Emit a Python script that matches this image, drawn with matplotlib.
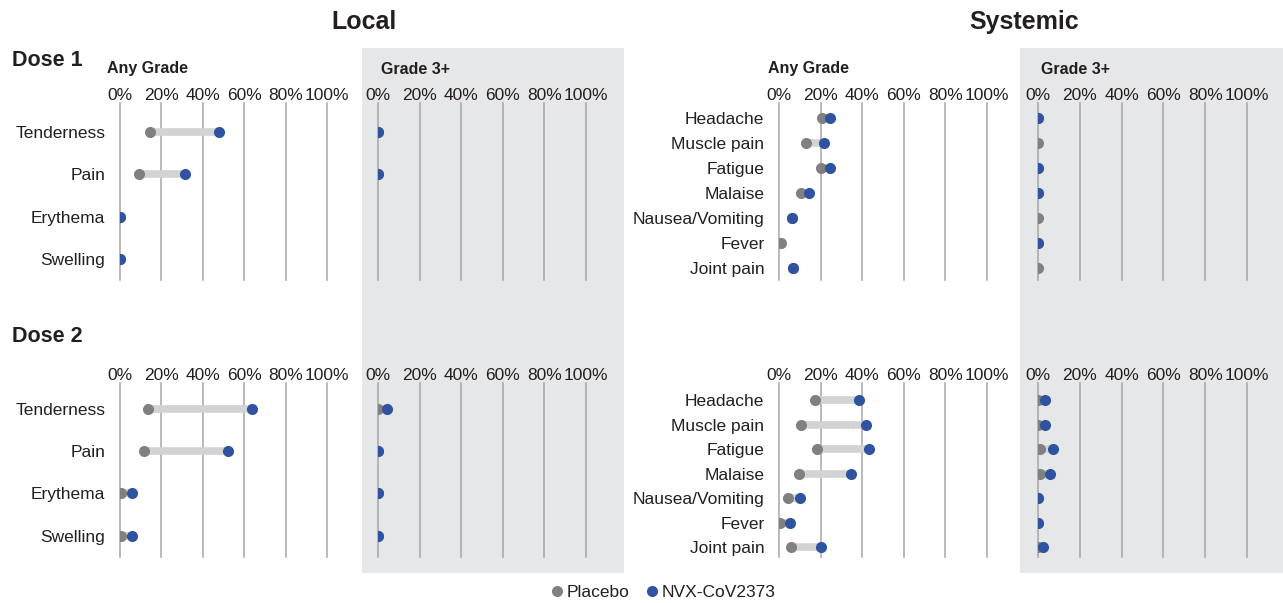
import numpy as np
import matplotlib
matplotlib.use("Agg")
import matplotlib.pyplot as plt
from matplotlib.patches import Rectangle
from matplotlib.lines import Line2D

plt.rcParams['font.family'] = ['Liberation Sans', 'DejaVu Sans']

nan = np.nan

# categories
local_rows = ["Tenderness", "Pain", "Erythema", "Swelling"]
sys_rows = ["Headache", "Muscle pain", "Fatigue", "Malaise",
            "Nausea/Vomiting", "Fever", "Joint pain"]
ticks = [0, 20, 40, 60, 80, 100]
tick_labels = ["0%", "20%", "40%", "60%", "80%", "100%"]

# Dose 1 (%)
local_any_pbo_d1 = [14.5, 9.0, 0, 0]
local_any_nvx_d1 = [48.0, 31.5, 0, 0]
local_g3_pbo_d1 = [0, 0, nan, nan]
local_g3_nvx_d1 = [0, 0, nan, nan]
sys_any_pbo_d1 = [20.5, 12.8, 20.4, 10.6, 6.4, 1.2, 6.7]
sys_any_nvx_d1 = [24.5, 21.6, 24.6, 14.2, 6.4, nan, 6.7]
sys_g3_pbo_d1 = [0, 0, 0, 0, 0, 0, 0]
sys_g3_nvx_d1 = [0, nan, 0, 0, nan, 0, nan]

# Dose 2 (%)
local_any_pbo_d2 = [13.7, 11.4, 0.5, 0.5]
local_any_nvx_d2 = [64.0, 52.4, 5.6, 5.6]
local_g3_pbo_d2 = [0, 0, 0, 0]
local_g3_nvx_d2 = [4.5, 0, 0, 0]
sys_any_pbo_d2 = [17.1, 10.6, 18.3, 9.7, 4.3, 0.7, 5.8]
sys_any_nvx_d2 = [38.7, 42.0, 43.2, 34.8, 10.1, 5.1, 20.0]
sys_g3_pbo_d2 = [0, 0, 0.8, 1.1, 0, 0, 0]
sys_g3_nvx_d2 = [3.5, 3.5, 7.0, 5.6, 0, 0, 2.4]

W, H = 1283, 603
C_PBO = "#808080"
C_NVX = "#2f53a0"
C_BAR = "#d2d3d5"
C_BG = "#e6e7e8"
C_TXT = "#231f20"
C_GRID = "#a5a5a5"

fig = plt.figure(figsize=(W / 100, H / 100), dpi=100)


def fx(x):
    return x / W


def fy(y):
    return 1 - y / H


# gray background behind Grade 3+ columns
for x0, x1 in [(362, 624), (1020, 1283)]:
    fig.patches.append(Rectangle((fx(x0), fy(573)), fx(x1 - x0), (573 - 48) / H,
                                 transform=fig.transFigure, facecolor=C_BG,
                                 edgecolor="none", zorder=-5))


def panel(x0, x1, ytop, ybot, rows, pbo, nvx, ylim, show_rows):
    ax = fig.add_axes([fx(x0), fy(ybot), (x1 - x0) / W, (ybot - ytop) / H])
    ax.set_facecolor("none")
    y = np.arange(len(rows))
    ax.set_xlim(0, 100)
    ax.set_ylim(*ylim)
    for t in ticks:
        ax.axvline(t, color=C_GRID, lw=1.1, zorder=1, clip_on=False)
    for yi, p, v in zip(y, pbo, nvx):
        if not (np.isnan(p) or np.isnan(v)):
            ax.plot([p, v], [yi, yi], color=C_BAR, lw=5.5, solid_capstyle="butt", zorder=2)
    # dots at 0% show only their right half, as in the source
    clip = Rectangle((0, -1), 100, len(rows) + 1, transform=ax.transData)
    p_line, = ax.plot(pbo, y, "o", color=C_PBO, ms=8, mew=0, zorder=3)
    v_line, = ax.plot(nvx, y, "o", color=C_NVX, ms=8, mew=0, zorder=4)
    p_line.set_clip_path(clip)
    v_line.set_clip_path(clip)
    ax.xaxis.tick_top()
    ax.set_xticks(ticks)
    ax.set_xticklabels(tick_labels)
    ax.tick_params(axis="x", length=0, pad=0, labelsize=12.5, colors=C_TXT)
    ax.set_yticks(y)
    if show_rows:
        ax.set_yticklabels(rows)
    else:
        ax.set_yticklabels([])
    ax.tick_params(axis="y", length=0, pad=10.5, labelsize=12.5, colors=C_TXT)
    for s in ax.spines.values():
        s.set_visible(False)
    return ax


# Dose 1
panel(120, 327, 103, 280, local_rows, local_any_pbo_d1, local_any_nvx_d1, (3.5, -0.69), True)
panel(378, 586, 103, 280, local_rows, local_g3_pbo_d1, local_g3_nvx_d1, (3.5, -0.69), False)
panel(779, 987, 103, 280, sys_rows, sys_any_pbo_d1, sys_any_nvx_d1, (6.5, -0.6), True)
panel(1038, 1247, 103, 280, sys_rows, sys_g3_pbo_d1, sys_g3_nvx_d1, (6.5, -0.6), False)

# Dose 2
panel(120, 327, 383, 557, local_rows, local_any_pbo_d2, local_any_nvx_d2, (3.5, -0.61), True)
panel(378, 586, 383, 557, local_rows, local_g3_pbo_d2, local_g3_nvx_d2, (3.5, -0.61), False)
panel(779, 987, 383, 557, sys_rows, sys_any_pbo_d2, sys_any_nvx_d2, (6.4, -0.7), True)
panel(1038, 1247, 383, 557, sys_rows, sys_g3_pbo_d2, sys_g3_nvx_d2, (6.4, -0.7), False)

# titles and labels
fig.text(fx(364), fy(22), "Local", ha="center", va="center", fontsize=18,
         fontweight="bold", color=C_TXT)
fig.text(fx(1024), fy(22), "Systemic", ha="center", va="center", fontsize=18,
         fontweight="bold", color=C_TXT)
fig.text(fx(12), fy(60), "Dose 1", ha="left", va="center", fontsize=15.5,
         fontweight="bold", color=C_TXT)
fig.text(fx(12), fy(336), "Dose 2", ha="left", va="center", fontsize=15.5,
         fontweight="bold", color=C_TXT)
for x, s in [(107, "Any Grade"), (381, "Grade 3+"), (768, "Any Grade"), (1041, "Grade 3+")]:
    fig.text(fx(x), fy(69), s, ha="left", va="center", fontsize=11.5,
             fontweight="bold", color=C_TXT)

handles = [Line2D([], [], marker="o", ls="none", color=C_PBO, ms=8, mew=0, label="Placebo"),
           Line2D([], [], marker="o", ls="none", color=C_NVX, ms=8, mew=0, label="NVX-CoV2373")]
fig.legend(handles=handles, loc="center", bbox_to_anchor=(fx(662), fy(592)), ncol=2,
           frameon=False, fontsize=12.5, handletextpad=0.05, columnspacing=0.8,
           handlelength=1.0, labelcolor=C_TXT)

fig.savefig("out.png", dpi=100)
